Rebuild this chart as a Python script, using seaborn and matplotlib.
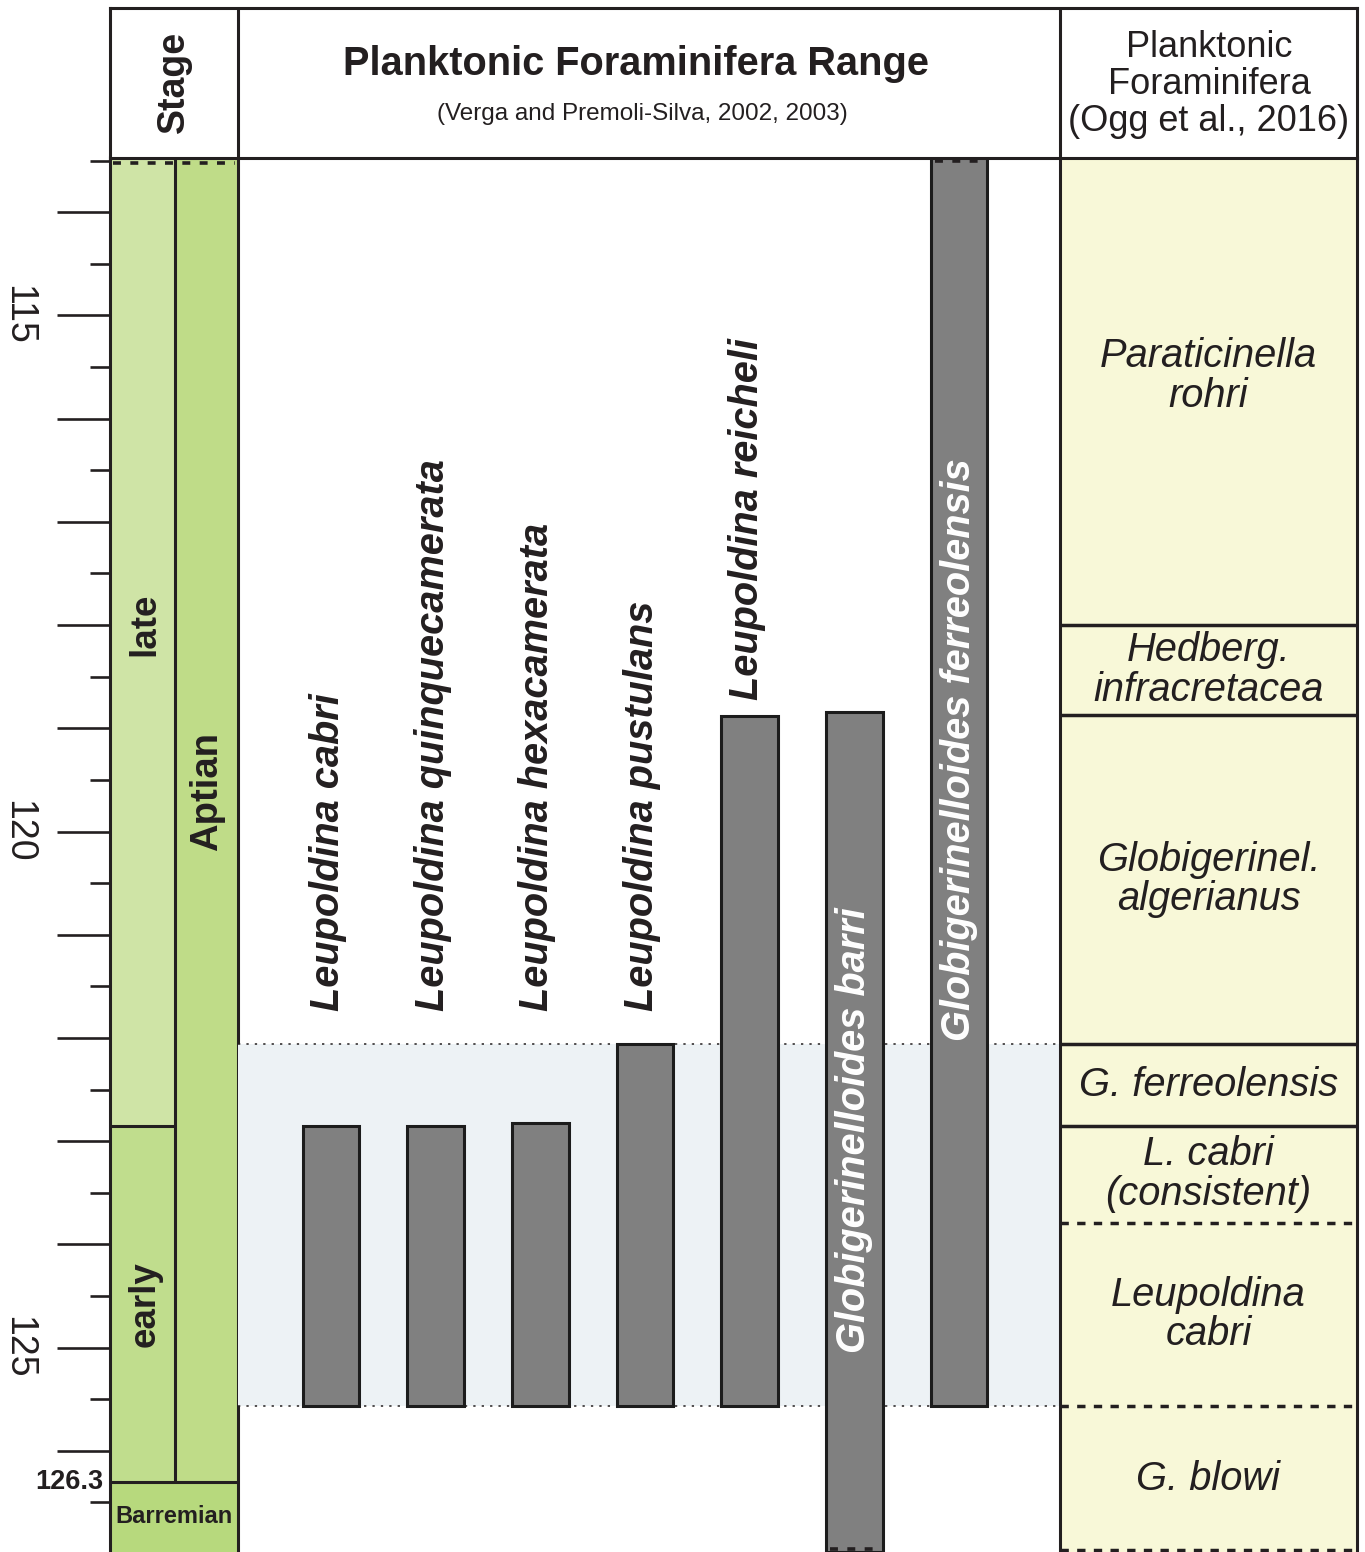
import numpy as np
import pandas as pd
import matplotlib
matplotlib.use("Agg")
import matplotlib.pyplot as plt
import seaborn as sns
from matplotlib.ticker import FixedLocator, FuncFormatter

# ---------------------------------------------------------------- data
species = ["Leupoldina cabri", "Leupoldina quinquecamerata", "Leupoldina hexacamerata",
           "Leupoldina pustulans", "Leupoldina reicheli",
           "Globigerinelloides barri", "Globigerinelloides ferreolensis"]
range_top = [122.85, 122.85, 122.82, 122.06, 118.88, 118.84, 113.47]    # youngest age, Ma
range_base = [125.57, 125.57, 125.57, 125.57, 125.57, 126.98, 125.57]   # oldest age, Ma
open_top = [False, False, False, False, False, False, True]
open_base = [False, False, False, False, False, True, False]
label_inside = [False, False, False, False, False, True, True]
inside_label_base = [None, None, None, None, None, 125.05, 122.03]

substages = ["late", "early"]
substage_top = [113.47, 122.85]
substage_base = [122.85, 126.3]
stages = ["Aptian", "Barremian"]
stage_top = [113.47, 126.3]
stage_base = [126.3, 126.98]

zones = ["Paraticinella\nrohri", "Hedberg.\ninfracretacea", "Globigerinel.\nalgerianus",
         "G. ferreolensis", "L. cabri\n(consistent)", "Leupoldina\ncabri", "G. blowi"]
zone_top = [113.47, 118.0, 118.87, 122.06, 122.85, 123.79, 125.57]
zone_base = [118.0, 118.87, 122.06, 122.85, 123.79, 125.57, 126.98]
zone_base_dashed = [False, False, False, False, True, True, True]

band_top, band_base = 122.06, 125.57
age_major = list(range(114, 128))
age_minor = [a + 0.5 for a in range(113, 127)]
age_labels = {115: "115", 120: "120", 125: "125"}
boundary_label = "126.3"

AGE_MIN, AGE_MAX = 113.47, 126.98

# ---------------------------------------------------------------- style
sns.set_theme(style="ticks")
plt.rcParams["font.family"] = ["Liberation Sans", "DejaVu Sans"]
INK = "#231f20"
LW = 2.2
C_LATE = "#cfe4a6"
C_EARLY = "#c0dd8d"
C_APTIAN = "#bfdc88"
C_BARREMIAN = "#b7d97d"
C_ZONE = "#f8f8d8"
C_BAND = "#edf2f5"
C_BAR = "#808080"

W, H = 1365, 1552
fig = plt.figure(figsize=(W / 100, H / 100), dpi=100)
fig.patch.set_facecolor("white")

TOP_PX = 157.5


def box(x0, x1, y0, y1):
    return fig.add_axes([x0 / W, 1 - y1 / H, (x1 - x0) / W, (y1 - y0) / H])


ax_stage = box(110, 238, TOP_PX, H)
ax_main = box(238, 1060, TOP_PX, H)
ax_zone = box(1060, 1357, TOP_PX, H)
ax_head = box(110, 1357, 8, TOP_PX)

for ax in (ax_stage, ax_main, ax_zone):
    ax.set_ylim(AGE_MAX, AGE_MIN)
    ax.set_facecolor("none")
    for s in ax.spines.values():
        s.set_visible(False)
        s.set_linewidth(LW)
        s.set_color(INK)

# ---------------------------------------------------------------- stage column
ax_stage.set_xlim(0, 1)
SPLIT = 0.51
sub_colors = [C_LATE, C_EARLY]
ax_stage.bar([SPLIT / 2] * 2, np.subtract(substage_base, substage_top), bottom=substage_top,
             width=SPLIT, color=sub_colors, linewidth=0, zorder=1)
ax_stage.bar([(1 + SPLIT) / 2, 0.5], np.subtract(stage_base, stage_top), bottom=stage_top,
             width=[1 - SPLIT, 1.0], color=[C_APTIAN, C_BARREMIAN], linewidth=0, zorder=1)
ax_stage.vlines(SPLIT, AGE_MIN, stage_base[0], color=INK, lw=LW, zorder=3)
ax_stage.hlines(substage_base[0], 0, SPLIT, color=INK, lw=LW, zorder=3)
ax_stage.hlines(stage_base[0], 0, 1, color=INK, lw=LW, zorder=3)
ax_stage.hlines(AGE_MIN + 0.05, 0.02, 0.98, color=INK, lw=2.6, linestyles=(0, (2.2, 2.6)), zorder=3)
for name, t, b in zip(substages, substage_top, substage_base):
    ax_stage.text(SPLIT / 2 + 0.02, (t + b) / 2 - (0.17 if name == "late" else 0), name,
                  rotation=90, ha="center", va="center", fontsize=26.5, fontweight="bold", color=INK)
ax_stage.text((1 + SPLIT) / 2, (stage_top[0] + stage_base[0]) / 2 - 0.27, stages[0], rotation=90,
              ha="center", va="center", fontsize=27.5, fontweight="bold", color=INK)
ax_stage.text(0.5, (stage_top[1] + stage_base[1]) / 2, stages[1], ha="center", va="center",
              fontsize=17, fontweight="bold", color=INK)
ax_stage.text(-0.05, stage_base[0], boundary_label, ha="right", va="center",
              fontsize=19.5, fontweight="bold", color=INK)

ax_stage.spines["left"].set_visible(True)
ax_stage.spines["right"].set_visible(True)
ax_stage.set_xticks([])
ax_stage.yaxis.set_major_locator(FixedLocator(age_major))
ax_stage.yaxis.set_minor_locator(FixedLocator(age_minor))
ax_stage.yaxis.set_major_formatter(FuncFormatter(lambda v, p: age_labels.get(int(round(v)), "")))
ax_stage.tick_params(axis="y", which="major", left=True, length=38, width=1.9, color=INK,
                     labelsize=27, labelcolor=INK, pad=15, labelrotation=-90)
ax_stage.tick_params(axis="y", which="minor", left=True, length=14.5, width=1.9, color=INK)
for lab in ax_stage.get_yticklabels():
    lab.set_verticalalignment("center")

# ---------------------------------------------------------------- range panel
ax_main.axhspan(band_top, band_base, color=C_BAND, zorder=0, lw=0)
ax_main.axhline(band_top, color=INK, lw=1.1, ls=(0, (1.5, 4)), zorder=1)
ax_main.axhline(band_base, color=INK, lw=1.1, ls=(0, (1.5, 4)), zorder=1)

df = pd.DataFrame({"species": species, "top": range_top, "base": range_base})
df["span"] = df["base"] - df["top"]
BAR_W = 0.54
sns.barplot(data=df, x="species", y="span", order=species, bottom=df["top"].to_numpy(),
            color=C_BAR, saturation=1, width=BAR_W, errorbar=None,
            edgecolor="#1c1c1c", linewidth=LW, zorder=3, ax=ax_main)
ax_main.set_xlim(-0.8885, 6.965)
ax_main.set_ylim(AGE_MAX, AGE_MIN)
ax_main.set_xlabel("")
ax_main.set_ylabel("")
ax_main.set_xticks([])
ax_main.set_yticks([])

for i, (name, t, b) in enumerate(zip(species, range_top, range_base)):
    if open_top[i]:
        ax_main.hlines(t, i - BAR_W / 2 + 0.02, i + BAR_W / 2 - 0.02, color=C_BAR, lw=3.2, zorder=4)
        ax_main.hlines(t + 0.03, i - BAR_W / 2 + 0.04, i + BAR_W / 2 - 0.02, color=INK, lw=2.6,
                       linestyles=(0, (2.2, 2.6)), zorder=5)
    if open_base[i]:
        ax_main.hlines(b - 0.03, i - BAR_W / 2 + 0.04, i + BAR_W / 2 - 0.02, color=INK, lw=2.6,
                       linestyles=(0, (2.2, 2.6)), zorder=5)
    if label_inside[i]:
        ax_main.text(i, inside_label_base[i], name, rotation=90, ha="center", va="bottom",
                     fontsize=28.6, fontweight="bold", style="italic", color="white", zorder=6)
    else:
        ax_main.text(i - 0.03, min(121.74, t - 0.15), name, rotation=90, ha="center", va="bottom",
                     fontsize=28.6, fontweight="bold", style="italic", color=INK, zorder=6)

# ---------------------------------------------------------------- zone column
ax_zone.set_xlim(0, 1)
ax_zone.bar([0.5] * len(zones), np.subtract(zone_base, zone_top), bottom=zone_top, width=1.0,
            color=C_ZONE, linewidth=0, zorder=1)
for name, t, b, dashed in zip(zones, zone_top, zone_base, zone_base_dashed):
    ls = (0, (2.4, 2.4)) if dashed else "-"
    ax_zone.hlines(b - (0.02 if b >= AGE_MAX else 0), 0, 1, color=INK, lw=LW + 0.3,
                   linestyles=ls, zorder=3)
    ax_zone.text(0.5, (t + b) / 2 - (0.15 if t == AGE_MIN else 0), name, ha="center",
                 va="center", fontsize=28.7, style="italic", color=INK, linespacing=1.05)
ax_zone.spines["left"].set_visible(True)
ax_zone.spines["right"].set_visible(True)
ax_zone.set_xticks([])
ax_zone.set_yticks([])

# ---------------------------------------------------------------- header row
ax_head.set_xlim(110, 1357)
ax_head.set_ylim(TOP_PX, 8)
ax_head.set_xticks([])
ax_head.set_yticks([])
for s in ax_head.spines.values():
    s.set_visible(True)
    s.set_linewidth(LW)
    s.set_color(INK)
ax_head.vlines([238, 1060], 8, TOP_PX, color=INK, lw=LW)
ax_head.text(174, 82, "Stage", rotation=90, ha="center", va="center", fontsize=27,
             fontweight="bold", color=INK)
ax_head.text(636, 75, "Planktonic Foraminifera Range", ha="center", va="baseline",
             fontsize=28.6, fontweight="bold", color=INK)
ax_head.text(642, 120, "(Verga and Premoli-Silva, 2002, 2003)", ha="center", va="baseline",
             fontsize=17.5, color=INK)
for txt, yb in zip(["Planktonic", "Foraminifera", "(Ogg et al., 2016)"], [57, 94, 131]):
    ax_head.text(1209, yb, txt, ha="center", va="baseline", fontsize=26, color=INK)

fig.savefig("out.png", dpi=100)
